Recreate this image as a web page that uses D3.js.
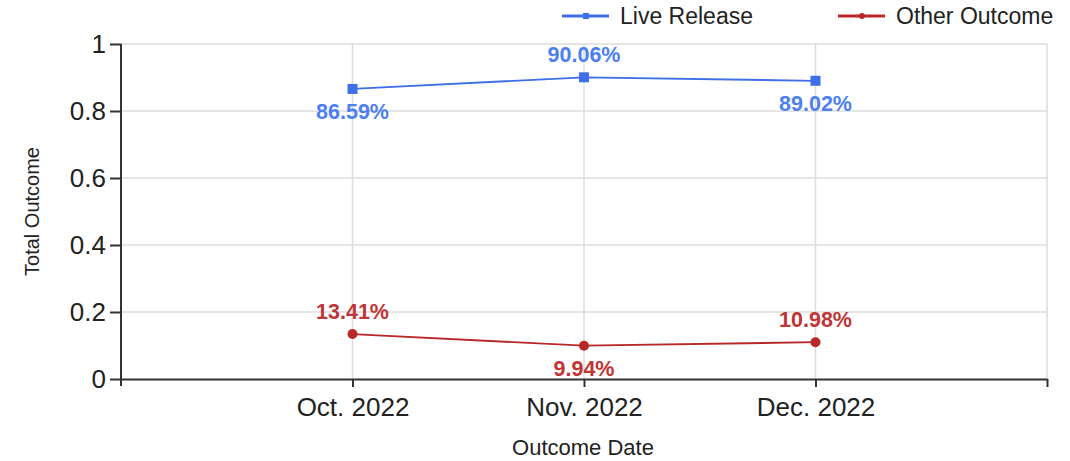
<!DOCTYPE html>
<html>
<head>
<meta charset="utf-8">
<script src="https://cdn.jsdelivr.net/npm/d3@7"></script>
<style>
  body { margin: 0; background: #fff; }
  text { font-family: "Liberation Sans", Arial, sans-serif; }
</style>
</head>
<body>
<svg id="chart"></svg>
<script>
// data
var months = ["Oct. 2022", "Nov. 2022", "Dec. 2022"];
var liveRelease = [0.8659, 0.9006, 0.8902];
var otherOutcome = [0.1341, 0.0994, 0.1098];
var seriesNames = ["Live Release", "Other Outcome"];
var yTicks = [0, 0.2, 0.4, 0.6, 0.8, 1];

var screen = { width: 1070, height: 461 };
var svg = d3.select("#chart")
            .attr("width", screen.width)
            .attr("height", screen.height);

var margins = { top: 44, bottom: 82, left: 121, right: 23 };
var plotW = screen.width - margins.left - margins.right;
var plotH = screen.height - margins.top - margins.bottom;

// categories sit at 1..3 on a 0..4 index domain
var xScale = d3.scaleLinear().domain([0, months.length + 1]).range([0, plotW]);
var yScale = d3.scaleLinear().domain([0, 1]).range([plotH, 0]);

var plot = svg.append("g")
              .attr("transform", "translate(" + margins.left + "," + margins.top + ")");

// grid
plot.append("g").selectAll("line")
    .data(yTicks.slice(1))
    .enter().append("line")
    .attr("x1", 0).attr("x2", plotW)
    .attr("y1", function(d){ return yScale(d); })
    .attr("y2", function(d){ return yScale(d); })
    .attr("stroke", "#dcdcdc").attr("stroke-width", 1.5);

var xGrid = d3.range(1, months.length + 2);
plot.append("g").selectAll("line")
    .data(xGrid)
    .enter().append("line")
    .attr("x1", function(d){ return xScale(d); })
    .attr("x2", function(d){ return xScale(d); })
    .attr("y1", 0).attr("y2", plotH)
    .attr("stroke", "#dcdcdc").attr("stroke-width", 1.5);

// axes
var yAxis = d3.axisLeft(yScale).tickValues(yTicks).tickFormat(d3.format("")).tickSize(11).tickPadding(4);
var yG = plot.append("g").call(yAxis);
yG.select(".domain").attr("d", "M0,0V" + (plotH + 7));

var xAxis = d3.axisBottom(xScale)
              .tickValues(xGrid)
              .tickFormat(function(d){ return months[d - 1] || ""; })
              .tickSize(8).tickPadding(11).tickSizeOuter(0);
var xG = plot.append("g").attr("transform", "translate(0," + plotH + ")").call(xAxis);

[yG, xG].forEach(function(g){
  g.selectAll(".domain").attr("stroke", "#333").attr("stroke-width", 2);
  g.selectAll(".tick line").attr("stroke", "#333").attr("stroke-width", 2);
  g.selectAll(".tick text").attr("fill", "#222");
});
yG.selectAll(".tick text").style("font-size", "26px");
xG.selectAll(".tick text").style("font-size", "26px");

// axis titles
svg.append("text")
   .attr("transform", "translate(39," + (margins.top + plotH / 2) + ") rotate(-90)")
   .attr("text-anchor", "middle")
   .style("font-size", "20px").attr("fill", "#222")
   .text("Total Outcome");
svg.append("text")
   .attr("x", margins.left + plotW / 2 - 1).attr("y", 455)
   .attr("text-anchor", "middle")
   .style("font-size", "22px").attr("fill", "#222")
   .text("Outcome Date");

// series
var series = [
  { name: seriesNames[0], values: liveRelease, color: "#3e6fe6", label: "#4d7ff0", marker: "square", top: true },
  { name: seriesNames[1], values: otherOutcome, color: "#b82828", label: "#c03535", marker: "circle", top: false }
];

var line = d3.line()
             .x(function(d, i){ return xScale(i + 1); })
             .y(function(d){ return yScale(d); });

series.forEach(function(s){
  plot.append("path")
      .datum(s.values)
      .attr("d", line)
      .attr("fill", "none")
      .attr("stroke", s.color)
      .attr("stroke-width", 1.8);

  if (s.marker == "square") {
    plot.selectAll(".pt-sq")
        .data(s.values).enter().append("rect")
        .attr("x", function(d, i){ return xScale(i + 1) - 5; })
        .attr("y", function(d){ return yScale(d) - 5; })
        .attr("width", 10).attr("height", 10)
        .attr("fill", s.color);
  } else {
    plot.selectAll(".pt-c")
        .data(s.values).enter().append("circle")
        .attr("cx", function(d, i){ return xScale(i + 1); })
        .attr("cy", function(d){ return yScale(d); })
        .attr("r", 5)
        .attr("fill", s.color);
  }

  var mx = d3.max(s.values), mn = d3.min(s.values);
  plot.selectAll(".lbl")
      .data(s.values).enter().append("text")
      .attr("x", function(d, i){ return xScale(i + 1); })
      .attr("y", function(d){
        var above = s.top ? (d == mx) : (d != mn);
        return above ? yScale(d) - 15 : yScale(d) + 30;
      })
      .attr("text-anchor", "middle")
      .style("font-size", "21.5px").style("font-weight", "bold")
      .attr("fill", s.label)
      .text(function(d){ return (d * 100).toFixed(2) + "%"; });
});

// legend
var legend = svg.append("g");
var legendX = [562, 838];
series.forEach(function(s, i){
  var g = legend.append("g").attr("transform", "translate(" + legendX[i] + ",16)");
  g.append("line").attr("x1", 0).attr("x2", 47).attr("y1", 0).attr("y2", 0)
   .attr("stroke", s.color).attr("stroke-width", 3);
  if (s.marker == "square") {
    g.append("rect").attr("x", 21).attr("y", -3).attr("width", 6).attr("height", 6).attr("fill", s.color);
  } else {
    g.append("circle").attr("cx", 24).attr("cy", 0).attr("r", 3).attr("fill", s.color);
  }
  g.append("text").attr("x", 58).attr("y", 8)
   .style("font-size", "23px").attr("fill", "#222")
   .text(s.name);
});
</script>
</body>
</html>
